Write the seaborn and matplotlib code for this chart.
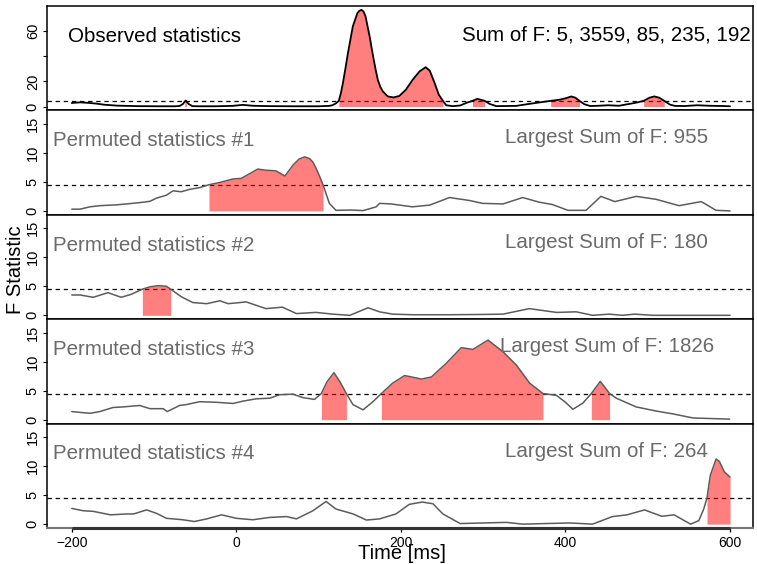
import numpy as np
import pandas as pd
import matplotlib
matplotlib.use("Agg")
import matplotlib.pyplot as plt
import matplotlib.transforms as mtransforms
import seaborn as sns

# ---- data -------------------------------------------------------------
threshold = 4.5

obs_t = [-200, -190, -180, -170, -160, -145, -120, -95, -75, -69, -65, -61.6, -58,
         -53.5, -45, -25, -5, 8, 20, 40, 70, 100, 113, 117, 121, 124.5, 127, 129.5,
         132.5, 135.5, 141.5, 147, 149.5, 152, 154.5, 157, 162, 164.5, 167, 169.5,
         172, 175, 178, 184, 191, 198, 206, 214, 222.5, 230, 235, 241, 246, 251,
         255, 263, 272, 280, 287, 293, 301.7, 308, 316, 340, 355, 370, 382, 392,
         400, 407, 412, 417, 423, 430, 440, 452, 465, 477, 487, 495, 502, 508, 514,
         520, 527, 533, 545, 560, 575, 590, 600]
obs_f = [2.8, 3.3, 2.9, 2.3, 1.4, 0.7, 0.3, 0.2, 0.2, 0.4, 2.0, 4.8, 2.0,
         0.3, 0.2, 0.2, 0.5, 1.3, 0.6, 0.3, 0.2, 0.2, 0.5, 1.1, 2.5, 4.5, 10.5, 18.6,
         30.0, 42.0, 63.5, 74.0, 76.0, 76.7, 75.5, 71.5, 55.5, 46.0, 37.0, 28.5,
         21.0, 15.5, 12.0, 8.0, 7.2, 8.4, 13.3, 21.0, 27.8, 31.2, 28.5, 18.6, 9.4, 4.5,
         1.0, 0.3, 0.8, 3.0, 4.5, 6.1, 4.5, 2.0, 0.3, 0.5, 2.0, 3.4, 4.5, 5.3,
         6.5, 8.0, 7.0, 4.5, 1.8, 0.4, 0.6, 1.0, 0.6, 2.0, 3.2, 4.5, 7.0, 8.0, 7.0,
         4.5, 1.5, 0.5, 0.4, 1.0, 0.6, 0.4, 0.2]
obs_clusters = [(-61.6, -61.6), (124.5, 251), (287, 301.7), (382, 417), (495, 520)]
obs_sums = [5, 3559, 85, 235, 192]

perm1_t = [-200, -190, -178, -166, -145, -126, -113, -105, -97, -85, -77, -67, -57,
           -45, -33.3, -20, -4, 6, 16, 26, 36, 48, 59, 69, 76, 83, 89, 93, 97, 101,
           105.3, 113, 121, 140, 154, 170, 174, 188, 214, 235, 259, 283, 299, 324,
           348, 368, 384, 403, 425, 443, 460, 486, 510, 538, 565, 583, 600]
perm1_f = [0.3, 0.3, 0.7, 0.9, 1.05, 1.3, 1.5, 1.65, 2.2, 2.7, 3.45, 3.3, 3.7,
           4.0, 4.5, 4.9, 5.5, 5.6, 6.4, 7.2, 7.0, 6.9, 6.0, 7.9, 8.9, 9.3, 9.0, 8.4,
           7.3, 6.0, 4.5, 1.3, 0.1, 0.15, 0.05, 0.7, 1.3, 1.2, 0.7, 1.0, 2.3, 1.8,
           1.3, 1.2, 2.3, 1.5, 1.1, 0.1, 0.1, 2.5, 1.6, 2.5, 2.0, 0.9, 1.6, 0.1, 0.0]
perm1_clusters = [(-33.3, 105.3)]

perm2_t = [-200, -190, -174, -156, -140, -128, -114.3, -105, -95, -85, -79.8, -67,
           -53, -36, -20, -10, 12, 36, 56, 73, 97, 117, 138, 160, 174, 190, 214, 260,
           300, 324, 356, 389, 413, 433, 453, 469, 484, 506, 600]
perm2_f = [3.5, 3.5, 3.1, 3.9, 3.1, 3.6, 4.5, 4.9, 5.1, 5.0, 4.5, 3.2,
           2.2, 2.0, 2.5, 2.0, 2.3, 1.15, 1.4, 0.3, 0.5, 0.2, 0.0, 1.3, 0.6, 0.2, 0.1,
           0.1, 0.15, 0.2, 1.15, 0.5, 0.6, 0.0, 0.2, 0.0, 0.2, 0.0, 0.0]
perm2_clusters = [(-114.3, -79.8)]

perm3_t = [-200, -178, -166, -150, -138, -117.5, -105, -89, -84, -69, -61, -44.6,
           -24.3, -4, 8, 24.3, 40.5, 52.6, 68.8, 81, 95, 103.3, 110, 118.6, 126,
           133.7, 141.7, 153.9, 166, 176.2, 190, 204.5, 215, 224.8, 237, 255, 273.4,
           287.5, 305.8, 324, 340.3, 356.4, 372.6, 388.9, 400, 409, 421, 431.4,
           442.3, 453.6, 461.8, 486, 510, 530.6, 554.9, 599.5]
perm3_f = [1.4, 1.1, 1.4, 2.1, 2.2, 2.45, 1.9, 1.9, 1.4, 2.45, 2.6, 3.1,
           3.0, 2.8, 3.2, 3.6, 3.7, 4.3, 4.4, 3.8, 3.5, 4.5, 6.5, 8.1, 6.5,
           4.5, 2.6, 1.7, 3.1, 4.5, 6.3, 7.6, 7.3, 7.0, 7.35, 9.7, 12.4,
           12.1, 13.7, 11.7, 9.4, 6.3, 4.5, 4.2, 3.0, 1.8, 2.85, 4.5,
           6.6, 4.5, 3.7, 2.2, 1.5, 1.0, 0.3, 0.1]
perm3_clusters = [(103.3, 133.7), (176.2, 372.6), (431.4, 453.6)]

perm4_t = [-200, -186, -174, -153, -133, -125, -109, -97, -85, -65, -51, -36, -18,
           0, 20, 40, 61, 73, 93, 109, 121, 142, 158, 174, 194, 210, 226, 239, 251,
           272, 328, 348, 405, 433, 457, 475, 496, 517, 532, 552, 562, 568, 572, 576,
           583, 587, 593, 600]
perm4_f = [2.7, 2.3, 2.2, 1.6, 1.75, 1.75, 2.45, 1.85, 1.0, 0.75, 0.45, 0.9, 1.6,
           1.0, 0.75, 1.15, 1.3, 0.9, 2.3, 3.9, 2.6, 1.75, 0.7, 0.9, 1.75, 3.4, 3.8,
           3.5, 1.75, 0.1, 0.3, 0.0, 0.2, 0.0, 1.3, 1.6, 2.45, 1.35, 1.6, 0.0, 0.6,
           2.6, 4.5, 8.4, 11.2, 10.8, 9.0, 8.1]
perm4_clusters = [(572, 600)]

perm_largest = [955, 180, 1826, 264]

x_ticks = [-200, 0, 200, 400, 600]
obs_yticks = [0, 20, 40, 60]
obs_ytick_labels = ["0", "20", "", "60"]
perm_yticks = [0, 5, 10, 15]

# ---- style ------------------------------------------------------------
sns.set_theme(style="ticks")
plt.rcParams["font.family"] = ["Liberation Sans", "DejaVu Sans"]

fig, axes = plt.subplots(5, 1, figsize=(7.57, 5.64), dpi=100, sharex=True,
                         gridspec_kw=dict(hspace=0))
fig.subplots_adjust(left=0.0617, right=0.9943, top=0.9894, bottom=0.0638)

panels = [
    ("Observed statistics", obs_t, obs_f, obs_clusters,
     "Sum of F: " + ", ".join(str(v) for v in obs_sums), True),
]
for k, (pt, pf, pc) in enumerate([(perm1_t, perm1_f, perm1_clusters),
                                  (perm2_t, perm2_f, perm2_clusters),
                                  (perm3_t, perm3_f, perm3_clusters),
                                  (perm4_t, perm4_f, perm4_clusters)]):
    panels.append((f"Permuted statistics #{k + 1}", pt, pf, pc,
                   f"Largest Sum of F: {perm_largest[k]}", False))

grey_text = "#6a6a6a"
grey_line = "#5c5c5c"

for ax, (title, tt, ff, clusters, sum_text, observed) in zip(axes, panels):
    t = np.asarray(tt, dtype=float)
    f = np.asarray(ff, dtype=float)
    df = pd.DataFrame({"time": t, "F": f})

    ax.axhline(threshold, color="black", lw=0.9, ls=(0, (3.5, 3)), zorder=1)

    for s, e in clusters:
        mask = (t >= s) & (t <= e)
        if mask.sum() == 1:
            ax.vlines(t[mask], 0, f[mask], color="red", alpha=0.5, lw=1.2, zorder=2)
        else:
            ax.fill_between(t, 0, f, where=mask, color="red", alpha=0.5,
                            lw=0, zorder=2)

    sns.lineplot(data=df, x="time", y="F", ax=ax, errorbar=None,
                 color="black" if observed else grey_line,
                 lw=1.3 if observed else 1.1, zorder=3)

    ax.set_xlim(-230.5, 627.5)
    if observed:
        ax.set_ylim(-3.07, 79.8)
        ax.set_yticks(obs_yticks)
        ax.set_yticklabels(obs_ytick_labels)
    else:
        ax.set_ylim(-0.67, 17.3)
        ax.set_yticks(perm_yticks)
        ax.set_yticklabels([str(v) for v in perm_yticks])

    ax.set_xlabel("")
    ax.set_ylabel("")
    ax.tick_params(axis="y", length=3, width=0.8, labelsize=10.5, pad=2,
                   colors="black", direction="out")
    for lbl in ax.get_yticklabels():
        lbl.set_rotation(90)
        lbl.set_va("center")
    ax.tick_params(axis="x", length=0)

    for sp in ax.spines.values():
        sp.set_visible(True)
        sp.set_linewidth(1.1)
        sp.set_color("black")

    trans = mtransforms.blended_transform_factory(ax.transData, ax.transAxes)
    tcol = "black" if observed else grey_text
    ax.text(-100, 0.658, title, transform=trans, ha="center", va="baseline",
            fontsize=14.8, color=tcol, zorder=5)
    ax.text(450, 0.668 if observed else 0.683, sum_text, transform=trans,
            ha="center", va="baseline", fontsize=14.8, color=tcol, zorder=5)

# bottom axis with tick labels
bax = axes[-1]
bax.set_xticks(x_ticks)
bax.set_xticklabels([str(v).replace("-", "\u2212") for v in x_ticks])
bax.tick_params(axis="x", length=3, width=0.9, labelsize=10, pad=2.5,
                colors="black", direction="out")
bax.spines["bottom"].set_color("#777777")
bax.spines["bottom"].set_linewidth(1.5)
bax.plot([x_ticks[0], x_ticks[-1]], [0, 0], transform=bax.get_xaxis_transform(),
         color="#333333", lw=2.2, clip_on=False, zorder=6, solid_capstyle="butt")

fig.text(0.021, 0.521, "F Statistic", rotation=90, ha="center", va="center",
         fontsize=14.5, color="black")
fig.text(0.531, 0.0085, "Time [ms]", ha="center", va="baseline",
         fontsize=14.5, color="black")

fig.savefig("out.png", dpi=100)
